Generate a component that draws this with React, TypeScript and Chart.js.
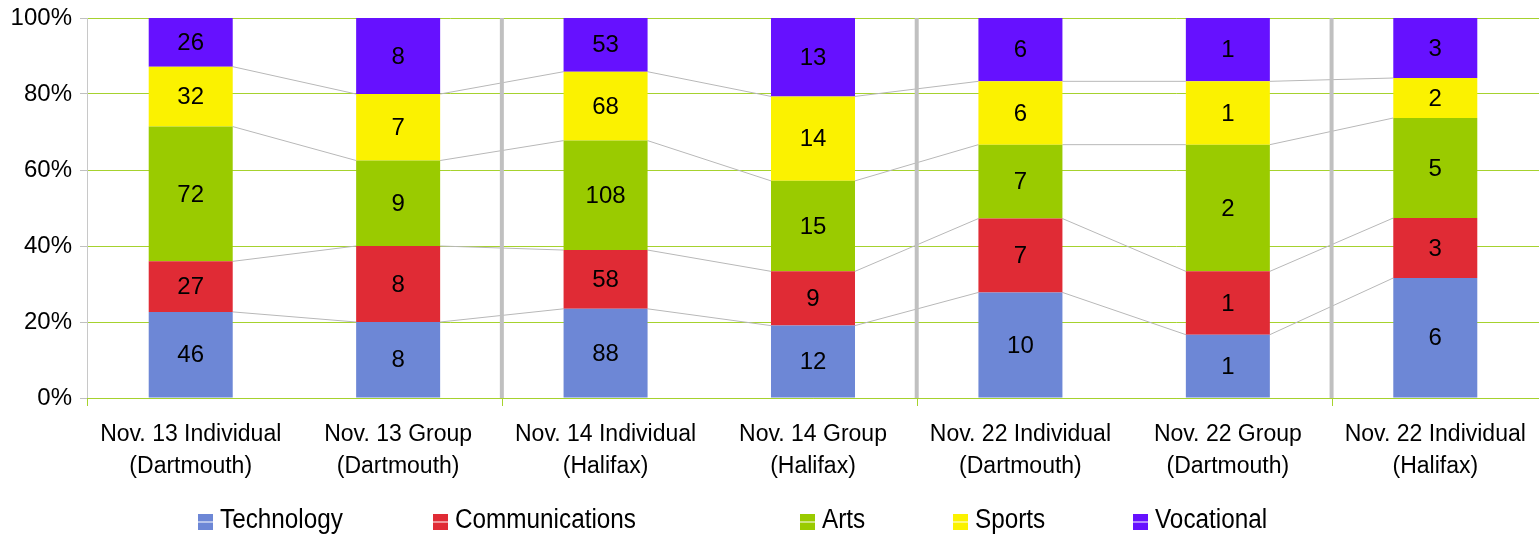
import React, { useEffect, useRef } from 'react';
import { Chart, registerables } from 'chart.js';

Chart.register(...registerables);

const categories: string[][] = [
  ['Nov. 13 Individual', '(Dartmouth)'],
  ['Nov. 13 Group', '(Dartmouth)'],
  ['Nov. 14 Individual', '(Halifax)'],
  ['Nov. 14 Group', '(Halifax)'],
  ['Nov. 22 Individual', '(Dartmouth)'],
  ['Nov. 22 Group', '(Dartmouth)'],
  ['Nov. 22 Individual', '(Halifax)'],
];

const technology = [46, 8, 88, 12, 10, 1, 6];
const communications = [27, 8, 58, 9, 7, 1, 3];
const arts = [72, 9, 108, 15, 7, 2, 5];
const sports = [32, 7, 68, 14, 6, 1, 2];
const vocational = [26, 8, 53, 13, 6, 1, 3];

const seriesNames = ['Technology', 'Communications', 'Arts', 'Sports', 'Vocational'];
const seriesColors = ['#6d87d6', '#e02b35', '#9acb00', '#fbf200', '#6611ff'];

const yTickStep = 20;
const separatorsAfter = [1, 3, 5];
const legendMarkerX = [198, 433, 800, 953, 1133];

const FONT = "'Liberation Sans', Arial, sans-serif";
const GREEN = '#a6d22e';

export default function App() {
  const ref = useRef<HTMLCanvasElement | null>(null);

  useEffect(() => {
    const canvas = ref.current;
    if (!canvas) return;
    const series = [technology, communications, arts, sports, vocational];
    const totals = categories.map((_, i) => series.reduce((s, arr) => s + arr[i], 0));

    const overlay = {
      id: 'overlay',
      beforeDatasetsDraw(chart: any) {
        const { ctx, chartArea, scales } = chart;
        const xs = scales.x;
        const half = (xs.getPixelForValue(1) - xs.getPixelForValue(0)) / 2;
        ctx.save();
        // series lines
        ctx.strokeStyle = '#b8b8b8';
        ctx.lineWidth = 1;
        for (let s = 0; s < series.length - 1; s++) {
          const meta = chart.getDatasetMeta(s);
          for (let i = 0; i < categories.length - 1; i++) {
            const a = meta.data[i];
            const b = meta.data[i + 1];
            ctx.beginPath();
            ctx.moveTo(a.x + a.width / 2, a.y);
            ctx.lineTo(b.x - b.width / 2, b.y);
            ctx.stroke();
          }
        }
        // separators
        separatorsAfter.forEach((i) => {
          const x = xs.getPixelForValue(i) + half;
          ctx.fillStyle = '#c0c0c0';
          ctx.fillRect(x - 2, chartArea.top, 4, chartArea.bottom - chartArea.top);
        });
        ctx.restore();
      },
      afterDatasetsDraw(chart: any) {
        const { ctx, chartArea, scales } = chart;
        const xs = scales.x;
        const half = (xs.getPixelForValue(1) - xs.getPixelForValue(0)) / 2;
        ctx.save();
        // x tick marks at axis start and separators
        ctx.strokeStyle = GREEN;
        ctx.lineWidth = 1;
        const tickXs = [chartArea.left, ...separatorsAfter.map((i) => xs.getPixelForValue(i) + half)];
        tickXs.forEach((x) => {
          ctx.beginPath();
          ctx.moveTo(Math.round(x) + 0.5, chartArea.bottom);
          ctx.lineTo(Math.round(x) + 0.5, chartArea.bottom + 8);
          ctx.stroke();
        });
        // data labels
        ctx.fillStyle = '#000';
        ctx.font = `24px ${FONT}`;
        ctx.textAlign = 'center';
        ctx.textBaseline = 'middle';
        series.forEach((vals, s) => {
          const meta = chart.getDatasetMeta(s);
          meta.data.forEach((el: any, i: number) => {
            ctx.fillText(String(vals[i]), el.x, (el.y + el.base) / 2 + 1);
          });
        });
        ctx.restore();
      },
      afterDraw(chart: any) {
        const { ctx } = chart;
        ctx.save();
        seriesNames.forEach((name, k) => {
          const x = legendMarkerX[k];
          ctx.fillStyle = seriesColors[k];
          ctx.fillRect(x, 514, 15, 16);
          ctx.fillStyle = '#ffffff';
          ctx.fillRect(x, 521.5, 15, 1);
          ctx.fillStyle = '#000';
          ctx.font = `27px ${FONT}`;
          ctx.textAlign = 'left';
          ctx.textBaseline = 'alphabetic';
          ctx.save();
          ctx.translate(x + 22, 528);
          ctx.scale(0.9, 1);
          ctx.fillText(name, 0, 0);
          ctx.restore();
        });
        ctx.restore();
      },
    };

    const chart = new Chart(canvas, {
      type: 'bar',
      data: {
        labels: categories,
        datasets: series.map((vals, k) => ({
          label: seriesNames[k],
          data: vals.map((v, i) => (v / totals[i]) * 100),
          backgroundColor: seriesColors[k],
          borderWidth: 0,
          barPercentage: 0.405,
          categoryPercentage: 1,
        })),
      },
      options: {
        animation: false,
        responsive: false,
        maintainAspectRatio: false,
        layout: { padding: { top: 18, right: 0, left: 0, bottom: 0 } },
        plugins: { legend: { display: false }, tooltip: { enabled: false } },
        scales: {
          x: {
            stacked: true,
            grid: { display: false, drawTicks: false },
            border: { display: true, color: GREEN },
            ticks: {
              color: '#000',
              font: { family: FONT, size: 23, lineHeight: 32 / 23 },
              padding: 21,
              maxRotation: 0,
              autoSkip: false,
            },
            afterFit: (s: any) => {
              s.height = 138;
              s.paddingLeft = 0;
              s.paddingRight = 0;
            },
          },
          y: {
            stacked: true,
            min: 0,
            max: 100,
            ticks: {
              stepSize: yTickStep,
              color: '#000',
              font: { family: FONT, size: 24 },
              padding: 8,
              callback: (v: any) => v + '%',
            },
            grid: { color: GREEN, tickColor: '#c0c0c0', tickLength: 7, drawTicks: true },
            border: { display: true, color: '#c8c8c8' },
            afterFit: (s: any) => {
              s.width = 87;
              s.paddingTop = 0;
              s.paddingBottom = 0;
            },
          },
        },
      },
      plugins: [overlay],
    } as any);

    return () => chart.destroy();
  }, []);

  return (
    <div style={{ position: 'absolute', left: 0, top: 0, width: 1539, height: 536, background: '#fff' }}>
      <canvas ref={ref} width={1539} height={536} style={{ width: 1539, height: 536, display: 'block' }} />
    </div>
  );
}
